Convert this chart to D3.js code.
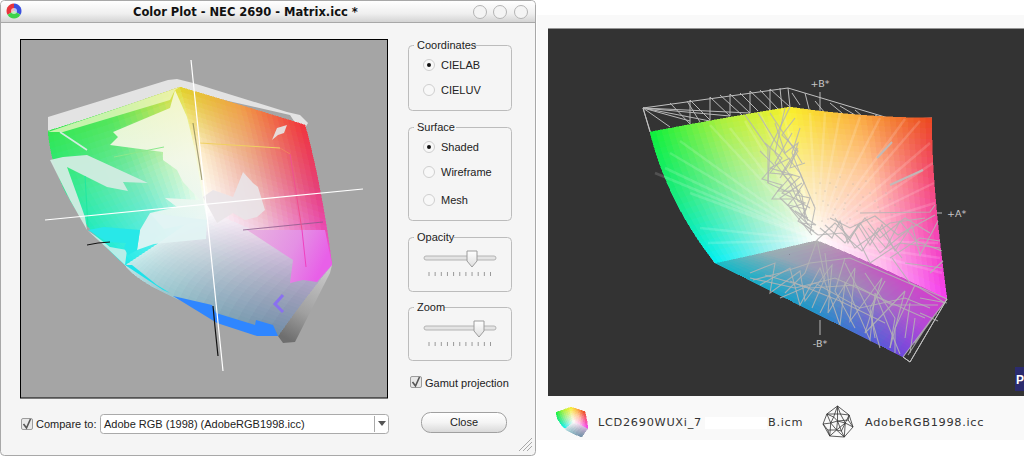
<!DOCTYPE html>
<html>
<head>
<meta charset="utf-8">
<script src="https://cdnjs.cloudflare.com/ajax/libs/d3/7.8.5/d3.min.js"></script>
<style>
html, body { margin: 0; padding: 0; background: #fff; overflow: hidden; }
svg { display: block; }
text { font-family: "Liberation Sans", sans-serif; font-size: 11px; fill: #222; }
</style>
</head>
<body>
<div id="draw_zone"></div>
<script>
// ---- data: every point is [a*, b*] ----
var titleText = "Color Plot - NEC 2690 - Matrix.icc *";
var coordinateOptions = ["CIELAB", "CIELUV"];
var surfaceOptions = ["Shaded", "Wireframe", "Mesh"];
var compareText = "Adobe RGB (1998) (AdobeRGB1998.icc)";
var axisLabels = ["+B*", "-B*", "+A*"];
var legendNames = ["LCD2690WUXi_7", "B.icm", "AdobeRGB1998.icc"];

// left plot, three gamut faces (3x3 control points)
var leftFaceGreen = [[[-156,88],[-94,108],[-24,132]], [[-134,19],[-70,40],[-8,69]], [[-79,-46],[-40,-20],[2,9]]];
var leftColsGreen = [["#32e650","#50e650","#e6dc3c"], ["#28eb9a","#78e8b4","#fafac8"], ["#1eebeb","#60eeee","#ffffff"]];
var leftFaceRed = [[[-24,132],[36,114],[101,94]], [[-8,69],[51,49],[116,29]], [[2,9],[61,-16],[128,-46]]];
var leftColsRed = [["#e1d228","#f0a046","#f0323c"], ["#fff5d2","#eca898","#e63c78"], ["#ffffff","#f0c8e1","#eb50e1"]];
var leftFaceBlue = [[[-79,-46],[-40,-20],[2,9]], [[-31,-78],[0,-41],[61,-16]], [[74,-117],[101,-80],[128,-46]]];
var leftColsBlue = [["#beebeb","#e1f0f0","#ffffff"], ["#96c3cd","#c0d0d8","#e8d4e8"], ["#6e8ca5","#9a9cb8","#c8aad7"]];

// left plot, flat patches
var leftCap = [[-156,102],[-36,139],[-27,140],[-11,136],[83,107],[96,104],[104,96],[98,86],[86,104],[-11,126],[-24,132],[-156,87]];
var leftTail = [[128,-46],[126,-54],[91,-123],[79,-124],[74,-117],[86,-90],[106,-68]];
var leftPaleStrip = [[-156,87],[-24,132],[-29,129],[-34,119],[-141,87]];
var leftPaleCentre = [[-34,111],[-91,87],[-86,82],[-94,74],[-41,67],[-41,59],[-27,49],[-21,37],[-4,19],[-39,21],[-27,12],[-54,6],[-40,-10],[3,-1],[-1,19],[-9,69],[-17,102],[-29,129]];
var leftPaleCyan = [[-64,-11],[-54,6],[3,-1],[2,-20],[-50,-25],[-67,-31]];
var leftPaleBand = [[-154,59],[-141,62],[-117,64],[-56,36],[-81,37],[-76,28],[-97,32],[-137,52],[-119,2],[-117,-11],[-134,19]];
var leftPaleLine = [[-144,87],[-117,69]];
var leftPaleFoot = [[-117,-11],[-107,-18],[-94,-28],[-77,-31],[-79,-46],[-96,-30]];
var leftPaleFlag = [[83,94],[73,91],[68,79],[74,84],[80,86]];
var leftPaleBlob = [[39,47],[49,36],[54,32],[61,9],[53,2],[41,-1],[29,6],[13,-4],[-1,22],[9,29],[29,22]];
var leftCyanStrip = [[-79,-46],[-72,-46],[-47,-66],[-34,-74],[-41,-71]];
var leftCyanBlob = [[-64,-11],[-67,-31],[-76,-36],[-80,-29],[-78,-24],[-97,-23],[-116,-11],[-100,-8]];
var leftBluePatch = [[-31,-77],[8,-86],[12,-94],[51,-106],[52,-101],[69,-106],[74,-117],[53,-117],[13,-104]];
var leftMagentaPatch = [[43,-11],[89,-41],[86,-64],[99,-61],[113,-63],[128,-46],[121,-11]];
var leftChevron = [[79,-76],[71,-85],[79,-93]];

// left plot, lines
var leftAxisV = [[-13,159],[19,-152]];
var leftAxisH = [[-159,-1],[159,30]];
var leftBlackA = [[-117,-26],[-106,-24],[-94,-23]];
var leftBlackB = [[9,-87],[11,-108],[14,-137]];
var leftDarkA = [[-11,96],[-2,39]];
var leftDarkB = [[39,-11],[119,-3]];
var leftBox = [[-4,76],[76,71],[86,65],[98,-11],[102,-48]];
var leftBoxCols = ["#f0d060","#f08060","#f05090","#f040c0"];
var leftGreenLine = [[-90,62],[-60,68],[-40,72]];
var leftGreenLine2 = [[-119,43],[-116,-8]];

// right plot, three gamut faces
var rightFaceGreen = [[[-170,81],[-100,94],[-30,106]], [[-145,13],[-80,30],[-18,36]], [[-105,-50],[-55,-39],[-3,-27]]];
var rightColsGreen = [["#0af03c","#aaf03c","#faf028"], ["#14eb82","#a0f0a0","#fff5b4"], ["#00f0f5","#90f0f0","#ffffff"]];
var rightFaceRed = [[[-30,106],[40,98],[112,95]], [[-18,36],[50,30],[115,20]], [[-3,-27],[62,-55],[127,-86]]];
var rightColsRed = [["#faf028","#faaa3c","#eb461e"], ["#fbebaa","#ffc8aa","#f54682"], ["#ffffff","#ffbef0","#f53cf0"]];
var rightFaceBlue = [[[-105,-50],[-55,-39],[-3,-27]], [[-11,-97],[30,-70],[62,-55]], [[83,-144],[105,-115],[127,-86]]];
var rightColsBlue = [["#14bec8","#96afb4","#afafaf"], ["#1e96c8","#a08cb4","#c850c3"], ["#6e46dc","#b446d7","#d73ccd"]];

// right plot, wire frame polylines
var rightRim = [[-170,81],[-177,105],[-32,125],[-30,106]];
var rightRim2 = [[-32,125],[75,93],[112,95]];
var rightEdge = [[-177,105],[-165,66],[-150,30],[-133,-7],[-105,-50]];
var rightFoot = [[127,-86],[90,-149],[83,-144]];
var rightWiresBehind = [
  [[-177,105],[-130,92]], [[-177,105],[-110,92]], [[-177,105],[-90,97]], [[-177,105],[-150,86]], [[-177,105],[-70,100]],
  [[-150,110],[-130,89],[-130,113],[-110,93],[-110,116],[-90,97],[-90,119],[-70,100],[-70,122],[-50,103],[-50,124],[-30,106]],
  [[-133,112],[-120,91]], [[-100,118],[-78,98]], [[-80,120],[-62,102]], [[-60,123],[-42,104]], [[-40,125],[-38,105]],
  [[-28,120],[-20,108]], [[-15,120],[-10,100]], [[-5,112],[5,100]], [[10,110],[22,100]], [[20,107],[35,98]], [[35,103],[42,97]], [[55,98],[65,93]]
];
var rightWires = [
  [[-62,100],[-45,72],[-20,40],[-5,5],[-10,-20]], [[-50,100],[-30,70],[-18,50]], [[-35,105],[-45,60],[-25,30],[-12,-8]],
  [[-30,106],[-50,65],[-52,30],[-30,20],[-12,-12]], [[-75,98],[-52,65],[-52,30]], [[-30,55],[-50,45],[-20,36],[-38,20],[-15,10],[-30,5],[-8,-22]],
  [[-28,80],[-45,50],[-30,30],[-22,12],[-10,5]], [[-22,65],[-38,40],[-18,18],[-15,-5]], [[-18,30],[-40,15],[-8,-15]],
  [[-55,70],[-38,55],[-50,40],[-28,38],[-42,22],[-20,22],[-32,8],[-14,4],[-22,-8],[-6,-18]],
  [[-45,90],[-35,60],[-22,70],[-30,45],[-15,50]], [[-25,95],[-38,78],[-22,62],[-40,35]],
  [[-60,62],[-46,48],[-58,34],[-38,28],[-48,14],[-28,14]], [[-20,85],[-28,60],[-16,30],[-24,18],[-10,15],[-16,-2]],
  [[-12,-5],[-25,2],[-4,-12],[-18,-10],[-2,-22]],
  [[-3,-27],[15,-10],[30,-25],[45,-5],[60,-25],[85,-5],[110,-20]], [[5,-12],[25,-30],[40,-10],[60,-40],[90,-15]], [[15,-5],[35,-35],[70,-10],[105,-5]],
  [[0,-15],[12,-25],[20,-8],[28,-30],[38,-12],[50,-32],[62,-12],[75,-38],[92,-12],[100,-42],[118,-8]],
  [[-2,-22],[22,-20],[42,-38],[58,-15],[82,-45]], [[10,-5],[30,-15],[55,-3],[78,-22],[115,-2]], [[48,-15],[66,-35],[80,-8],[96,-28],[122,-38]],
  [[40,0],[110,1],[115,8]], [[80,-30],[120,-35]], [[85,-50],[122,-55]], [[70,-45],[100,-25],[120,-28]],
  [[35,-20],[50,-50],[80,-30]], [[72,-45],[90,-70],[127,-86]], [[110,-60],[123,-48]],
  [[-67,-67],[-40,-60],[-10,-50],[30,-45],[70,-62],[100,-75],[125,-90]], [[-60,-72],[-30,-55],[-20,-92],[0,-55],[20,-112],[25,-70],[50,-127],[55,-80],[80,-141]],
  [[-70,-65],[-25,-75],[15,-65],[60,-85],[105,-105]], [[-40,-85],[-5,-70],[40,-95],[85,-85],[110,-95]], [[-3,-27],[-15,-60],[-35,-80]],
  [[-70,-60],[-45,-50],[-50,-80],[-20,-58],[-15,-88],[12,-52],[8,-100],[35,-55],[30,-108],[62,-65],[45,-120],[85,-78],[70,-135]],
  [[-55,-62],[-10,-75],[35,-72],[72,-92],[118,-92]], [[-30,-68],[20,-88],[65,-110]], [[-3,-27],[5,-65],[-8,-95]],
  [[25,-45],[15,-78],[35,-115]], [[65,-68],[50,-95],[55,-125]], [[95,-72],[75,-115],[75,-140]],
  [[5,-40],[10,-80],[0,-100]], [[25,-50],[50,-100],[60,-135]], [[45,-60],[75,-105],[70,-135]], [[90,-90],[85,-125]], [[95,-105],[90,-140]],
  [[127,-86],[83,-144],[120,-95],[95,-130],[110,-108],[88,-142]], [[100,-85],[127,-90]], [[100,-100],[118,-108]]
];
var rightStreaks = [[[70,28],[103,43]], [[57,55],[72,71]]];
var rightRayEnds = [
  [-150,60],[-130,20],[-120,-15],[-90,85],[-60,100],[-165,40],[-140,72],[-110,88],[-155,45],[-112,-30],[-38,104],[-75,92],
  [20,100],[60,95],[100,92],[113,50],[115,10],[118,-30],[122,-60],[85,94],[-10,100],[5,100],[40,96],[110,70],[114,30],[120,-45]
];
var rightDots = [
  [5,22],[10,30],[17,14],[24,4],[28,18],[33,29],[40,8],[47,-4],[50,20],[55,12],[60,2],[62,-12],[70,14],[72,-2],
  [3,12],[8,8],[13,-2],[18,-8],[22,-14],[12,-14],[25,10],[30,-6],[35,-12],[39,24],[43,16],[46,32],[-4,20],[-6,8],
  [0,30],[20,36],[16,26],[8,-6],[2,-8],[27,-10],[52,-8],[58,6],[66,20],[75,8],[37,2],[15,4]
];
var rightAxisV = [[[0,121],[0,100]], [[0,-107],[0,-122]]];
var rightAxisH = [[[112,0],[122,0]], [[-137,0],[-133,0]]];

// wire icon of the legend
var iconNodes = [[15,0],[27,9],[31,21],[22,31],[7,30],[0,18],[4,8],[15,15],[14,24],[23,17],[8,17],[18,8],[11,11],[19,25],[26,14],[5,24]];
var iconEdges = [[0,1],[1,2],[2,3],[3,4],[4,5],[5,6],[6,0],[0,7],[7,8],[8,3],[7,9],[9,2],[7,10],[10,5],[8,4],[8,10],[9,3],[0,11],[11,1],[11,9],[11,6],[10,6],[10,4],[9,1],[8,9],[12,0],[12,7],[12,6],[13,3],[13,7],[13,8],[14,1],[14,7],[14,2],[15,5],[15,8],[15,4],[12,10],[13,9]];

// ---- scales ----
var leftA = d3.scaleLinear().domain([-184,184]).range([20,388]);
var leftB = d3.scaleLinear().domain([179,-179]).range([40,398]);
var rightA = d3.scaleLinear().domain([-272,204]).range([548,1024]);
var rightB = d3.scaleLinear().domain([185,-183]).range([28,396]);
var iconA = d3.scaleLinear().domain([-156,128]).range([556,588]);
var iconB = d3.scaleLinear().domain([132,-117]).range([407,437]);
var wireA = d3.scaleLinear().domain([0,31]).range([823,853]);
var wireB = d3.scaleLinear().domain([0,31]).range([406,437]);

var holder = d3.select("#draw_zone").append("svg").attr("width", 1024).attr("height", 457);
var defs = holder.append("defs");

function gradient(id, x1, y1, x2, y2, stops) {
  var g = defs.append("linearGradient").attr("id", id)
    .attr("x1", x1).attr("y1", y1).attr("x2", x2).attr("y2", y2);
  stops.forEach(function(s) {
    g.append("stop").attr("offset", s[0]).attr("stop-color", s[1]);
  });
}
gradient("titleGrad", 0, 0, 0, 1, [[0, "#ffffff"], [0.6, "#efefef"], [1, "#d4d4d4"]]);
gradient("tailGrad", 0.7, 0, 0.3, 1, [[0, "#c8c8c8"], [0.6, "#a0a0a0"], [1, "#6e6e6e"]]);
gradient("magentaGrad", 0, 0, 1, 0.3, [[0, "#e8b4e0"], [0.6, "#e490e4"], [1, "#e860e8"]]);
gradient("centreGrad", 0, 0, 0, 1, [[0, "#f4f8d2"], [0.5, "#f4f8ea"], [1, "#e6f6f4"]]);
gradient("knobGrad", 0, 0, 0, 1, [[0, "#ffffff"], [1, "#dedede"]]);
gradient("btnGrad", 0, 0, 0, 1, [[0, "#ffffff"], [0.5, "#f4f4f4"], [1, "#d8d8d8"]]);

function quad(t) {
  return [2 * (t - 0.5) * (t - 1), -4 * t * (t - 1), 2 * t * (t - 0.5)];
}

// curved 3x3 patch, split into small cells so that the colours blend
function drawFace(g, pts, cols, xs, ys, n) {
  function pos(u, v) {
    var wu = quad(u), wv = quad(v), x = 0, y = 0;
    for (var r = 0; r < 3; r++) for (var c = 0; c < 3; c++) {
      x += wv[r] * wu[c] * pts[r][c][0];
      y += wv[r] * wu[c] * pts[r][c][1];
    }
    return [xs(x), ys(y)];
  }
  function col(u, v) {
    var cu = Math.min(1, Math.floor(u * 2)), cv = Math.min(1, Math.floor(v * 2));
    var fu = u * 2 - cu, fv = v * 2 - cv;
    var top = d3.interpolateRgb(cols[cv][cu], cols[cv][cu + 1])(fu);
    var bot = d3.interpolateRgb(cols[cv + 1][cu], cols[cv + 1][cu + 1])(fu);
    return d3.interpolateRgb(top, bot)(fv);
  }
  var cells = [];
  for (var i = 0; i < n; i++) for (var j = 0; j < n; j++) cells.push([i, j]);
  g.selectAll(null).data(cells).enter().append("path")
    .attr("d", function(d) {
      var u0 = d[0] / n, u1 = (d[0] + 1) / n, v0 = d[1] / n, v1 = (d[1] + 1) / n;
      return "M" + [pos(u0, v0), pos(u1, v0), pos(u1, v1), pos(u0, v1)].join("L") + "Z";
    })
    .attr("fill", function(d) { return col((d[0] + 0.5) / n, (d[1] + 0.5) / n); })
    .attr("stroke", function(d) { return col((d[0] + 0.5) / n, (d[1] + 0.5) / n); })
    .attr("stroke-width", 0.5)
    .attr("shape-rendering", "crispEdges");
}

function shape(g, pts, xs, ys) {
  var line = d3.line().x(function(d) { return xs(d[0]); }).y(function(d) { return ys(d[1]); });
  return g.append("path").attr("d", line(pts));
}
function poly(g, pts, xs, ys, fill, op) {
  return shape(g, pts.concat([pts[0]]), xs, ys).attr("fill", fill).attr("opacity", op === undefined ? 1 : op);
}
function wire(g, pts, xs, ys, color, w, op) {
  return shape(g, pts, xs, ys).attr("fill", "none").attr("stroke", color)
    .attr("stroke-width", w).attr("opacity", op === undefined ? 1 : op);
}

// ---- window frame ----
holder.append("rect").attr("x", 0.5).attr("y", 0.5).attr("width", 535).attr("height", 455)
  .attr("rx", 4).attr("fill", "#f5f5f5").attr("stroke", "#a8a8a8");
holder.append("path").attr("d", "M1,22V5Q1,1 5,1H531Q535,1 535,5V22Z").attr("fill", "url(#titleGrad)");
holder.append("line").attr("x1", 1).attr("x2", 535).attr("y1", 22.5).attr("y2", 22.5).attr("stroke", "#a8a8a8");
holder.append("text").attr("x", 133).attr("y", 16).text(titleText)
  .style("font-family", "'DejaVu Sans'").style("font-weight", "bold").style("font-size", "11.5px").style("fill", "#111");

// app icon
var appIcon = holder.append("g").attr("transform", "translate(14,11)");
var iconPie = d3.pie().value(function() { return 1; }).startAngle(-Math.PI * 2 / 3).endAngle(Math.PI * 4 / 3);
appIcon.selectAll("path").data(iconPie(["#e8343c", "#3c50e0", "#3cd24a"])).enter().append("path")
  .attr("d", d3.arc().innerRadius(0).outerRadius(7.5)).attr("fill", function(d) { return d.data; });
appIcon.append("circle").attr("r", 3).attr("fill", "#fff").attr("opacity", 0.65);

// window buttons
[480, 500, 521].forEach(function(cx) {
  holder.append("circle").attr("cx", cx).attr("cy", 12).attr("r", 6.5).attr("fill", "#f4f4f4").attr("stroke", "#b4b4b4");
});

// ---- left plot ----
var left = holder.append("g");
left.append("rect").attr("x", 20.5).attr("y", 39.5).attr("width", 367).attr("height", 358.5)
  .attr("fill", "#a5a5a5").attr("stroke", "#000");
poly(left, leftTail, leftA, leftB, "url(#tailGrad)");
poly(left, leftCap, leftA, leftB, "#e3e3e3");
drawFace(left, leftFaceBlue, leftColsBlue, leftA, leftB, 24);
drawFace(left, leftFaceGreen, leftColsGreen, leftA, leftB, 24);
drawFace(left, leftFaceRed, leftColsRed, leftA, leftB, 24);

poly(left, leftPaleStrip, leftA, leftB, "#f2f8c8", 0.75);
poly(left, leftPaleCentre, leftA, leftB, "url(#centreGrad)", 0.92);
poly(left, leftPaleCyan, leftA, leftB, "#e2f3f3", 0.95);
poly(left, leftPaleBand, leftA, leftB, "#d2ece2", 0.95);
wire(left, leftPaleLine, leftA, leftB, "#d2ece2", 1.6);
poly(left, leftPaleFoot, leftA, leftB, "#bfeee8", 0.95);
poly(left, leftPaleFlag, leftA, leftB, "#e6e2e0", 0.95);
poly(left, leftPaleBlob, leftA, leftB, "#e9e4e8", 0.9);
poly(left, leftCyanStrip, leftA, leftB, "#1ee2ea");
poly(left, leftCyanBlob, leftA, leftB, "#28e8e8");
poly(left, leftBluePatch, leftA, leftB, "#2f86ff");
poly(left, leftMagentaPatch, leftA, leftB, "url(#magentaGrad)");
wire(left, leftChevron, leftA, leftB, "#8a70f0", 3);

wire(left, leftDarkA, leftA, leftB, "#7d7d50", 1.2, 0.7);
wire(left, leftDarkB, leftA, leftB, "#8b5a8b", 1, 0.8);
wire(left, leftGreenLine, leftA, leftB, "#8ce88c", 1);
wire(left, leftGreenLine2, leftA, leftB, "#20e8a0", 1);
d3.pairs(leftBox).forEach(function(seg, i) {
  wire(left, seg, leftA, leftB, leftBoxCols[i], 1);
});
wire(left, leftBlackA, leftA, leftB, "#111", 1);
wire(left, leftBlackB, leftA, leftB, "#111", 1.2);
wire(left, leftAxisV, leftA, leftB, "#fff", 1.2);
wire(left, leftAxisH, leftA, leftB, "#fff", 1.2);

// ---- controls ----
function groupBox(x, y, w, h, label, gap) {
  holder.append("rect").attr("x", x + 0.5).attr("y", y + 0.5).attr("width", w).attr("height", h)
    .attr("rx", 4).attr("fill", "none").attr("stroke", "#bcbcbc");
  holder.append("rect").attr("x", x + 6).attr("y", y - 4).attr("width", gap).attr("height", 9).attr("fill", "#f5f5f5");
  holder.append("text").attr("x", x + 9).attr("y", y + 4).text(label);
}
function radio(x, y, label, on) {
  holder.append("circle").attr("cx", x).attr("cy", y).attr("r", 5.5).attr("fill", "#f8f8f8").attr("stroke", "#cfcfcf");
  if (on) holder.append("circle").attr("cx", x).attr("cy", y).attr("r", 2).attr("fill", "#111");
  holder.append("text").attr("x", x + 12).attr("y", y + 4).text(label);
}
function checkbox(x, y) {
  holder.append("rect").attr("x", x + 0.5).attr("y", y + 0.5).attr("width", 11).attr("height", 11).attr("rx", 1.5)
    .attr("fill", "#e8e8e8").attr("stroke", "#9c9c9c");
  holder.append("path").attr("d", "M" + (x + 2.5) + "," + (y + 6) + "l3,4l4,-9")
    .attr("fill", "none").attr("stroke", "#555").attr("stroke-width", 1.6);
}
function slider(y, knob) {
  holder.append("rect").attr("x", 424).attr("y", y).attr("width", 72).attr("height", 4).attr("rx", 2)
    .attr("fill", "#e4e4e4").attr("stroke", "#b4b4b4");
  holder.append("path")
    .attr("d", "M" + (knob - 5) + "," + (y - 5) + "h10v10l-5,6l-5,-6Z")
    .attr("fill", "url(#knobGrad)").attr("stroke", "#9c9c9c");
  var ticks = d3.range(11).map(function(i) { return 429 + i * 6.15; });
  holder.selectAll(null).data(ticks).enter().append("line")
    .attr("x1", function(d) { return d; }).attr("x2", function(d) { return d; })
    .attr("y1", y + 16).attr("y2", y + 20).attr("stroke", "#999");
}

groupBox(408, 45, 103, 65, "Coordinates", 60);
coordinateOptions.forEach(function(t, i) { radio(429, 65 + i * 25, t, i == 0); });
groupBox(408, 127, 103, 93, "Surface", 42);
surfaceOptions.forEach(function(t, i) { radio(429, 147 + [0, 25, 53][i], t, i == 0); });
groupBox(408, 237, 103, 54, "Opacity", 40);
slider(256, 472);
groupBox(408, 307, 103, 53, "Zoom", 30);
slider(326, 479);
checkbox(410, 376);
holder.append("text").attr("x", 425).attr("y", 387).text("Gamut projection");

// close button
holder.append("rect").attr("x", 421.5).attr("y", 412.5).attr("width", 85).attr("height", 20).attr("rx", 9)
  .attr("fill", "url(#btnGrad)").attr("stroke", "#a0a0a0");
holder.append("text").attr("x", 464).attr("y", 426).attr("text-anchor", "middle").text("Close");

// compare row
checkbox(21, 418);
holder.append("text").attr("x", 36).attr("y", 428).text("Compare to:");
holder.append("rect").attr("x", 100.5).attr("y", 414.5).attr("width", 288).attr("height", 19).attr("rx", 3)
  .attr("fill", "#fff").attr("stroke", "#aaa");
holder.append("text").attr("x", 104).attr("y", 428).text(compareText);
holder.append("line").attr("x1", 374.5).attr("x2", 374.5).attr("y1", 416).attr("y2", 432).attr("stroke", "#aaa");
holder.append("path").attr("d", "M378,421h8l-4,5Z").attr("fill", "#555");

// resize grip
[0, 4, 8].forEach(function(o) {
  holder.append("line").attr("x1", 519 + o).attr("y1", 451).attr("x2", 532).attr("y2", 438 + o)
    .attr("stroke", "#a8a8a8");
});

// ---- right plot ----
holder.append("rect").attr("x", 537).attr("y", 15).attr("width", 487).attr("height", 425).attr("fill", "#f9f9f9");
holder.append("rect").attr("x", 548).attr("y", 28.5).attr("width", 476).attr("height", 367.5).attr("fill", "#333333");

var right = holder.append("g");
rightAxisV.concat(rightAxisH).forEach(function(l) { wire(right, l, rightA, rightB, "#b8b8b8", 1); });
wire(right, rightRim, rightA, rightB, "#c0c0c0", 1);
wire(right, rightRim2, rightA, rightB, "#c0c0c0", 1);
wire(right, rightEdge, rightA, rightB, "#c0c0c0", 1);
wire(right, rightFoot, rightA, rightB, "#c0c0c0", 1);
rightWiresBehind.forEach(function(l) { wire(right, l, rightA, rightB, "#b8b8b8", 1); });
drawFace(right, rightFaceBlue, rightColsBlue, rightA, rightB, 24);
drawFace(right, rightFaceGreen, rightColsGreen, rightA, rightB, 24);
drawFace(right, rightFaceRed, rightColsRed, rightA, rightB, 24);
rightRayEnds.forEach(function(e) { wire(right, [[-3,-27], e], rightA, rightB, "#fff", 2.5, 0.15); });
rightWires.forEach(function(l) { wire(right, l, rightA, rightB, "#b4b4b4", 1.1, 0.85); });
rightStreaks.forEach(function(l) { wire(right, l, rightA, rightB, "#bdbdbd", 2, 0.9); });
wire(right, rightFoot, rightA, rightB, "#c0c0c0", 1);
right.selectAll(null).data(rightDots).enter().append("circle")
  .attr("cx", function(d) { return rightA(d[0]); })
  .attr("cy", function(d) { return rightB(d[1]); })
  .attr("r", 0.5).attr("fill", "#a8a8a8");

right.selectAll(null).data(axisLabels).enter().append("text")
  .attr("x", function(d, i) { return rightA([0, 0, 127][i]); })
  .attr("y", function(d, i) { return rightB([126, -134, -4][i]); })
  .attr("text-anchor", function(d, i) { return i == 2 ? "start" : "middle"; })
  .text(function(d) { return d; })
  .style("font-family", "'DejaVu Sans'").style("font-size", "9.5px").style("fill", "#c8c8c8");

// clipped corner badge
holder.append("rect").attr("x", 1015).attr("y", 367).attr("width", 9).attr("height", 24).attr("fill", "#2b2b6e");
holder.append("text").attr("x", 1016).attr("y", 384).text("P").style("fill", "#fff").style("font-size", "12px").style("font-weight", "bold");

// ---- legend ----
var legendIcon = holder.append("g");
drawFace(legendIcon, leftFaceBlue, leftColsBlue, iconA, iconB, 8);
drawFace(legendIcon, leftFaceGreen, rightColsGreen, iconA, iconB, 8);
drawFace(legendIcon, leftFaceRed, rightColsRed, iconA, iconB, 8);

holder.append("rect").attr("x", 705).attr("y", 417).attr("width", 62).attr("height", 12).attr("fill", "#fff");
holder.selectAll(null).data(legendNames).enter().append("text")
  .attr("x", function(d, i) { return [598, 768, 865][i]; })
  .attr("y", 426)
  .text(function(d) { return d; })
  .style("font-family", "'DejaVu Sans'").style("font-size", "11.3px").style("letter-spacing", "0.7px").style("fill", "#333");

holder.selectAll(null).data(iconEdges).enter().append("line")
  .attr("x1", function(d) { return wireA(iconNodes[d[0]][0]); })
  .attr("y1", function(d) { return wireB(iconNodes[d[0]][1]); })
  .attr("x2", function(d) { return wireA(iconNodes[d[1]][0]); })
  .attr("y2", function(d) { return wireB(iconNodes[d[1]][1]); })
  .attr("stroke", "#333").attr("stroke-width", 0.8);
</script>
</body>
</html>
